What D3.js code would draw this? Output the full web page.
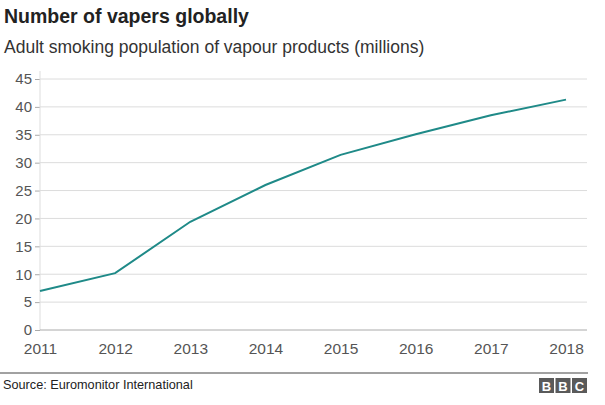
<!DOCTYPE html>
<html>
<head>
<meta charset="utf-8">
<script src="https://cdn.jsdelivr.net/npm/d3@7"></script>
<style>
  body { margin: 0; background: #fff; }
  svg { font-family: "Liberation Sans", Arial, sans-serif; }
</style>
</head>
<body>
<div id="chart"></div>
<script>
// data
const years = [2011, 2012, 2013, 2014, 2015, 2016, 2017, 2018];
const vapers = [7.0, 10.2, 19.4, 26.0, 31.4, 35.1, 38.5, 41.3];
const yTicks = [0, 5, 10, 15, 20, 25, 30, 35, 40, 45];

const width = 605, height = 405;
const margin = { top: 79, right: 39, bottom: 75, left: 40 };
const innerW = 566 - margin.left;
const innerH = 330 - margin.top;

const svg = d3.select("#chart")
  .append("svg")
  .attr("width", width)
  .attr("height", height);

// titles
svg.append("text")
  .attr("x", 4).attr("y", 23)
  .attr("font-size", 19.5).attr("font-weight", "bold")
  .attr("fill", "#222")
  .text("Number of vapers globally");

svg.append("text")
  .attr("x", 4).attr("y", 53)
  .attr("font-size", 17.5).attr("fill", "#333")
  .text("Adult smoking population of vapour products (millions)");

const g = svg.append("g")
  .attr("transform", `translate(${margin.left},${margin.top})`);

const x = d3.scalePoint().domain(years).range([0, innerW]);
const y = d3.scaleLinear().domain([0, 45]).range([innerH, 0]);

// y axis
const yAxis = g.append("g")
  .call(d3.axisLeft(y).tickValues(yTicks).tickSize(5).tickPadding(3));
yAxis.select(".domain").remove();
yAxis.selectAll("text").attr("font-size", 15).attr("fill", "#555")
  .attr("font-family", "Liberation Sans, Arial, sans-serif");
yAxis.selectAll("line").attr("stroke", "#aaa");

// gridlines
g.append("g")
  .selectAll("line")
  .data(yTicks.filter((d) => d > 0))
  .join("line")
  .attr("x1", 0).attr("x2", 587 - margin.left)
  .attr("y1", (d) => y(d)).attr("y2", (d) => y(d))
  .attr("stroke", "#dcdcdc");

// vertical axis line
g.append("line")
  .attr("x1", 0).attr("x2", 0)
  .attr("y1", y(45) - 8).attr("y2", innerH)
  .attr("stroke", "#ddd");

// baseline
g.append("line")
  .attr("x1", 0).attr("x2", 587 - margin.left)
  .attr("y1", innerH).attr("y2", innerH)
  .attr("stroke", "#aaa");

// x axis labels
const xAxis = g.append("g")
  .attr("transform", `translate(0,${innerH})`)
  .call(d3.axisBottom(x).tickSize(0).tickPadding(13));
xAxis.select(".domain").remove();
xAxis.selectAll("text").attr("font-size", 15.5).attr("fill", "#555")
  .attr("font-family", "Liberation Sans, Arial, sans-serif");

// the line
const line = d3.line()
  .x((d, i) => x(years[i]))
  .y((d) => y(d));

g.append("path")
  .datum(vapers)
  .attr("fill", "none")
  .attr("stroke", "#1f8a88")
  .attr("stroke-width", 2)
  .attr("d", line);

// footer
svg.append("line")
  .attr("x1", 0).attr("x2", 588)
  .attr("y1", 373).attr("y2", 373)
  .attr("stroke", "#444").attr("stroke-width", 1);

svg.append("text")
  .attr("x", 3).attr("y", 389)
  .attr("font-size", 12.7).attr("fill", "#222")
  .text("Source: Euromonitor International");

const logo = svg.append("g").attr("transform", "translate(539,378)");
["B", "B", "C"].forEach((c, i) => {
  logo.append("rect")
    .attr("x", i * 16.5).attr("y", 0)
    .attr("width", 15).attr("height", 15)
    .attr("fill", "#5a5a5a");
  logo.append("text")
    .attr("x", i * 16.5 + 7.5).attr("y", 12.5)
    .attr("text-anchor", "middle")
    .attr("font-size", 13).attr("font-weight", "bold")
    .attr("fill", "#fff")
    .text(c);
});
</script>
</body>
</html>
